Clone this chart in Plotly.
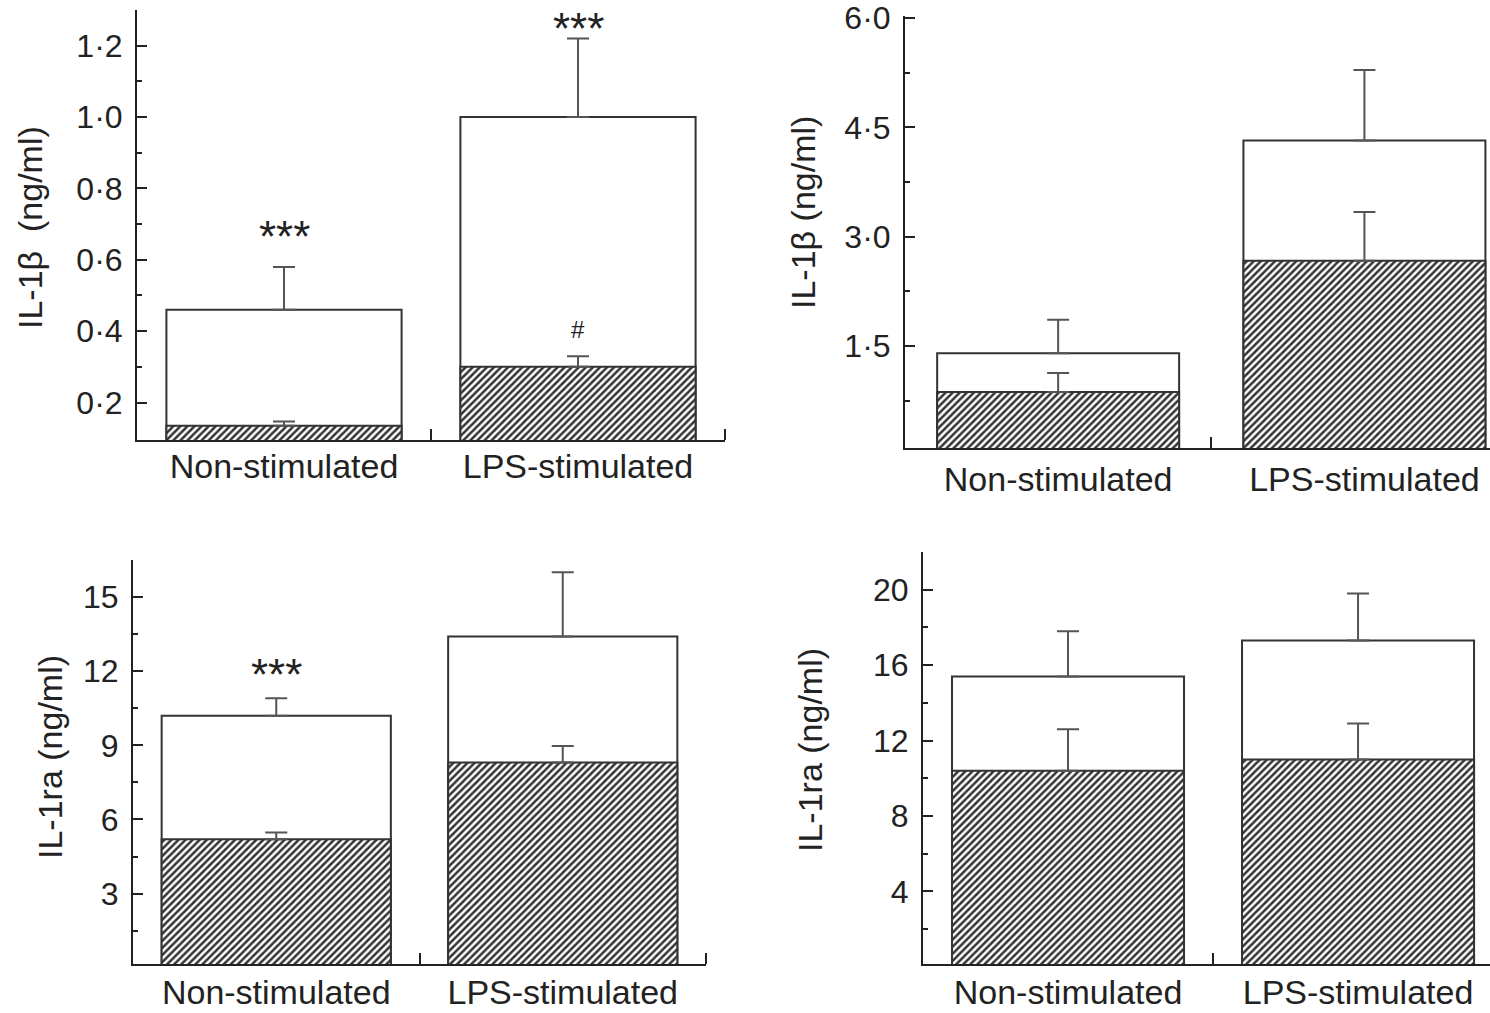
import plotly.graph_objects as go

W, H = 1490, 1013

categories = ["Non-stimulated", "LPS-stimulated"]

# Top-left: IL-1beta
tl_total = [0.46, 1.00]
tl_total_err = [0.12, 0.22]
tl_hatch = [0.135, 0.30]
tl_hatch_err = [0.012, 0.03]
tl_ticks = [0.2, 0.4, 0.6, 0.8, 1.0, 1.2]
tl_ticktext = ["0·2", "0·4", "0·6", "0·8", "1·0", "1·2"]
tl_minor = [0.3, 0.5, 0.7, 0.9, 1.1]

# Top-right: IL-1beta
tr_total = [1.40, 4.32]
tr_total_err = [0.46, 0.97]
tr_hatch = [0.87, 2.67]
tr_hatch_err = [0.26, 0.67]
tr_ticks = [1.5, 3.0, 4.5, 6.0]
tr_ticktext = ["1·5", "3·0", "4·5", "6·0"]
tr_minor = [0.75, 2.25, 3.75, 5.25]

# Bottom-left: IL-1ra
bl_total = [10.2, 13.4]
bl_total_err = [0.7, 2.6]
bl_hatch = [5.2, 8.3]
bl_hatch_err = [0.27, 0.67]
bl_ticks = [3, 6, 9, 12, 15]
bl_ticktext = ["3", "6", "9", "12", "15"]
bl_minor = [1.5, 4.5, 7.5, 10.5, 13.5]

# Bottom-right: IL-1ra
br_total = [15.4, 17.3]
br_total_err = [2.4, 2.5]
br_hatch = [10.4, 11.0]
br_hatch_err = [2.2, 1.9]
br_ticks = [4, 8, 12, 16, 20]
br_ticktext = ["4", "8", "12", "16", "20"]
br_minor = [2, 6, 10, 14, 18]

# significance marks: (panel, category index, text, y value, font size)
marks = [
    (0, 0, "***", 0.665, 44),
    (0, 1, "***", 1.248, 44),
    (0, 1, "#", 0.405, 24),
    (2, 0, "***", 11.85, 44),
]

FONT = "Liberation Sans, Arial, sans-serif"
AX = "#222222"

panels = [
    dict(px=(137, 725, 10, 440), xr=[-0.5, 1.5], yr=[0.095, 1.30],
         total=tl_total, terr=tl_total_err, hatch=tl_hatch, herr=tl_hatch_err,
         ticks=tl_ticks, ticktext=tl_ticktext, minor=tl_minor,
         title="IL-1β  (ng/ml)", tpos=(30, 228), width=0.8, xstand=-5),
    dict(px=(905, 1490, 16, 448), xr=[-0.5, 1.41], yr=[0.1, 6.03],
         total=tr_total, terr=tr_total_err, hatch=tr_hatch, herr=tr_hatch_err,
         ticks=tr_ticks, ticktext=tr_ticktext, minor=tr_minor,
         title="IL-1β (ng/ml)", tpos=(803, 213), width=0.79, xstand=0),
    dict(px=(133, 706, 560, 964), xr=[-0.5, 1.5], yr=[0.15, 16.5],
         total=bl_total, terr=bl_total_err, hatch=bl_hatch, herr=bl_hatch_err,
         ticks=bl_ticks, ticktext=bl_ticktext, minor=bl_minor,
         title="IL-1ra (ng/ml)", tpos=(50, 757), width=0.8, xstand=-3),
    dict(px=(923, 1490, 552, 964), xr=[-0.5, 1.455], yr=[0.15, 22.0],
         total=br_total, terr=br_total_err, hatch=br_hatch, herr=br_hatch_err,
         ticks=br_ticks, ticktext=br_ticktext, minor=br_minor,
         title="IL-1ra (ng/ml)", tpos=(810, 750), width=0.8, xstand=-3),
]

fig = go.Figure()
layout = dict(
    width=W, height=H, margin=dict(l=0, r=0, t=0, b=0, autoexpand=False),
    paper_bgcolor="white", plot_bgcolor="rgba(0,0,0,0)",
    showlegend=False, barmode="overlay",
    font=dict(family=FONT, color=AX),
)
annotations = []
xpos = list(range(len(categories)))

for i, p in enumerate(panels):
    n = "" if i == 0 else str(i + 1)
    xa, ya = "x" + n, "y" + n
    x0, x1, yt, yb = p["px"]
    layout["xaxis" + n] = dict(
        domain=[x0 / W, min(1.0, x1 / W)], range=p["xr"], anchor=ya,
        tickmode="array", tickvals=xpos, ticktext=categories, ticks="",
        tickfont=dict(size=34, family=FONT, color=AX),
        showline=True, linecolor=AX, linewidth=2, showgrid=False, zeroline=False,
        minor=dict(tickmode="array", tickvals=[0.5, 1.5], ticks="inside",
                   ticklen=11, tickwidth=2, tickcolor=AX),
        ticklabelstandoff=p["xstand"],
        ticklabeloverflow="allow", automargin=False,
        fixedrange=True,
    )
    layout["yaxis" + n] = dict(
        domain=[1 - yb / H, 1 - yt / H], range=p["yr"], anchor=xa,
        tickmode="array", tickvals=p["ticks"], ticktext=p["ticktext"],
        ticks="inside", ticklen=10, tickwidth=2, tickcolor=AX,
        tickfont=dict(size=32, family=FONT, color=AX),
        showline=True, linecolor=AX, linewidth=2, showgrid=False, zeroline=False,
        minor=dict(tickmode="array", tickvals=p["minor"], ticks="inside",
                   ticklen=5, tickwidth=2, tickcolor=AX),
        ticklabelstandoff=6, ticklabeloverflow="allow", automargin=False,
        fixedrange=True,
    )
    fig.add_trace(go.Bar(
        x=xpos, y=p["total"], xaxis=xa, yaxis=ya, width=p["width"],
        marker=dict(color="white", line=dict(color="#333333", width=2)),
        error_y=dict(type="data", array=p["terr"], arrayminus=[0] * len(xpos),
                     symmetric=False, color="#555555", thickness=2, width=11),
    ))
    fig.add_trace(go.Bar(
        x=xpos, y=p["hatch"], xaxis=xa, yaxis=ya, width=p["width"],
        marker=dict(color="white", line=dict(color="#333333", width=2),
                    pattern=dict(shape="/", size=5, solidity=0.5,
                                 fgcolor="#333333", bgcolor="white",
                                 fillmode="replace")),
        error_y=dict(type="data", array=p["herr"], arrayminus=[0] * len(xpos),
                     symmetric=False, color="#555555", thickness=2, width=11),
    ))
    tx, ty = p["tpos"]
    annotations.append(dict(
        x=tx / W, y=1 - ty / H, xref="paper", yref="paper", text=p["title"],
        textangle=-90, showarrow=False, xanchor="center", yanchor="middle",
        font=dict(size=34, family=FONT, color=AX),
    ))

for (pi, ci, txt, yv, fs) in marks:
    n = "" if pi == 0 else str(pi + 1)
    annotations.append(dict(
        x=ci, y=yv, xref="x" + n, yref="y" + n, text=txt, showarrow=False,
        xanchor="center", yanchor="middle",
        font=dict(size=fs, family=FONT, color=AX),
    ))

layout["annotations"] = annotations
fig.update_layout(**layout)
fig.write_html("out.html")
